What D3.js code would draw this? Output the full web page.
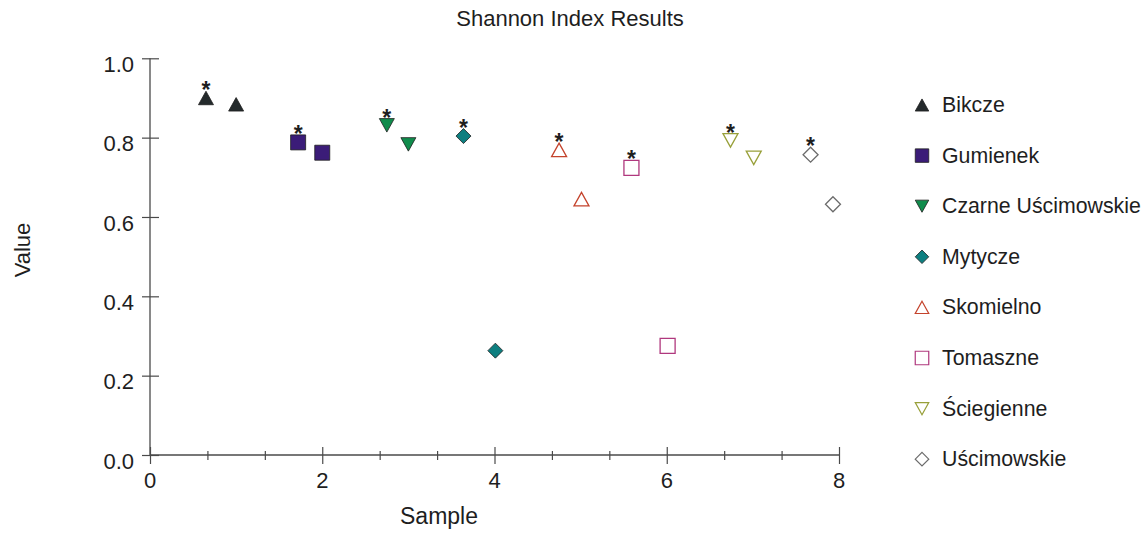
<!DOCTYPE html>
<html>
<head>
<meta charset="utf-8">
<script src="https://cdn.jsdelivr.net/npm/d3@7"></script>
<style>
  html, body { margin: 0; padding: 0; background: #fff; }
  svg { display: block; font-family: "Liberation Sans", Arial, sans-serif; }
</style>
</head>
<body>
<svg id="chart" width="1147" height="533"></svg>
<script>
// ---- data ----
const sites = ["Bikcze", "Gumienek", "Czarne Uścimowskie", "Mytycze", "Skomielno", "Tomaszne", "Ściegienne", "Uścimowskie"];
const shapes = ["triUp", "square", "triDown", "diamond", "triUp", "square", "triDown", "diamond"];
const filled = [true, true, true, true, false, false, false, false];
const colors = ["#242a2c", "#3b1c78", "#108c4c", "#0e7f80", "#c4432c", "#b0387e", "#98a03a", "#6b6b6b"];
// starred sample (marked with *) and second sample per site
const starX = [0.65, 1.72, 2.75, 3.64, 4.75, 5.59, 6.74, 7.67];
const starY = [0.900, 0.788, 0.831, 0.804, 0.769, 0.724, 0.793, 0.757];
const plainX = [1.00, 2.00, 3.00, 4.01, 5.01, 6.01, 7.01, 7.93];
const plainY = [0.884, 0.762, 0.783, 0.263, 0.645, 0.275, 0.749, 0.632];
const xTickValues = [0, 2/3, 4/3, 2, 8/3, 10/3, 4, 14/3, 16/3, 6, 20/3, 22/3, 8];
const xLabels = [0, 2, 4, 6, 8];
const yTickValues = [0, 0.2, 0.4, 0.6, 0.8, 1.0];
const title = "Shannon Index Results";
const xTitle = "Sample";
const yTitle = "Value";

// ---- layout ----
const svg = d3.select("#chart");
const x = d3.scaleLinear().domain([0, 8]).range([150, 839]);
const y = d3.scaleLinear().domain([0, 1]).range([455, 58.3]);
const axisColor = "#4a4a4a";
const textColor = "#1e1e1e";

function shapePath(type, cx, cy, s) {
  const h = s / 2;
  if (type === "square") return `M${cx-h},${cy-h}H${cx+h}V${cy+h}H${cx-h}Z`;
  if (type === "diamond") return `M${cx},${cy-h}L${cx+h},${cy}L${cx},${cy+h}L${cx-h},${cy}Z`;
  const th = s * 0.9;
  if (type === "triUp") return `M${cx},${cy-th/2}L${cx+h},${cy+th/2}L${cx-h},${cy+th/2}Z`;
  return `M${cx-h},${cy-th/2}L${cx+h},${cy-th/2}L${cx},${cy+th/2}Z`;
}
function topOf(type, s) { return type === "square" || type === "diamond" ? s/2 : s*0.45; }

// title
svg.append("text").attr("x", 570).attr("y", 26).attr("text-anchor", "middle")
  .attr("font-size", 22).attr("fill", textColor).text(title);

// y axis
const yAxis = d3.axisLeft(y).tickValues(yTickValues).tickSize(0).tickFormat(d3.format(".1f"));
const gy = svg.append("g").attr("transform", `translate(${x(0)},0)`).call(yAxis);
gy.select(".domain").remove();
gy.selectAll(".tick text").attr("x", -16).attr("dy", "0.6em").attr("font-size", 22)
  .attr("font-family", "Liberation Sans, Arial, sans-serif").attr("fill", textColor);
gy.selectAll(".tick").append("line").attr("x1", -8).attr("x2", 9)
  .attr("stroke", axisColor).attr("stroke-width", 1.2);
svg.append("line").attr("x1", x(0)).attr("x2", x(0)).attr("y1", y(1)).attr("y2", y(0))
  .attr("stroke", axisColor).attr("stroke-width", 1.3);

// x axis
const xAxis = d3.axisBottom(x).tickValues(xTickValues).tickSize(0).tickFormat(() => "");
const gx = svg.append("g").attr("transform", `translate(0,${y(0)})`).call(xAxis);
gx.select(".domain").remove();
gx.selectAll(".tick").each(function(d) {
  const major = Math.abs(d / 2 - Math.round(d / 2)) < 1e-6;
  d3.select(this).append("line").attr("y1", major ? -8 : -4).attr("y2", major ? 9 : 5)
    .attr("stroke", axisColor).attr("stroke-width", 1.2);
});
svg.append("line").attr("x1", x(0)).attr("x2", x(8)).attr("y1", y(0)).attr("y2", y(0))
  .attr("stroke", axisColor).attr("stroke-width", 1.3);
svg.append("g").selectAll("text").data(xLabels).join("text")
  .attr("x", d => x(d)).attr("y", y(0) + 33).attr("text-anchor", "middle")
  .attr("font-size", 22).attr("fill", textColor).text(d => d);

// axis titles
svg.append("text").attr("x", 439).attr("y", 524).attr("text-anchor", "middle")
  .attr("font-size", 23).attr("fill", textColor).text(xTitle);
svg.append("text").attr("transform", "translate(30,250) rotate(-90)").attr("text-anchor", "middle")
  .attr("font-size", 22).attr("fill", textColor).text(yTitle);

// points
const S = 15;
const pts = svg.append("g");
sites.forEach((name, i) => {
  [[starX[i], starY[i], true], [plainX[i], plainY[i], false]].forEach(([vx, vy, star]) => {
    const cx = x(vx), cy = y(vy);
    pts.append("path").attr("d", shapePath(shapes[i], cx, cy, S))
      .attr("fill", filled[i] ? colors[i] : "#fff")
      .attr("stroke", filled[i] ? "#1e1e1e" : colors[i])
      .attr("stroke-width", filled[i] ? 0.8 : 1.3);
    if (star) {
      pts.append("text").attr("x", cx).attr("y", cy - topOf(shapes[i], S) + 7)
        .attr("text-anchor", "middle").attr("font-size", 23).attr("font-weight", "bold")
        .attr("fill", textColor).text("*");
    }
  });
});

// legend
const leg = svg.append("g");
sites.forEach((name, i) => {
  const cy = 105 + i * 50.6;
  leg.append("path").attr("d", shapePath(shapes[i], 922, cy, 13.5))
    .attr("fill", filled[i] ? colors[i] : "#fff")
    .attr("stroke", filled[i] ? "#1e1e1e" : colors[i])
    .attr("stroke-width", filled[i] ? 0.8 : 1.2);
  leg.append("text").attr("x", 942).attr("y", cy + 7).attr("font-size", 21.3)
    .attr("fill", textColor).text(name);
});
</script>
</body>
</html>
